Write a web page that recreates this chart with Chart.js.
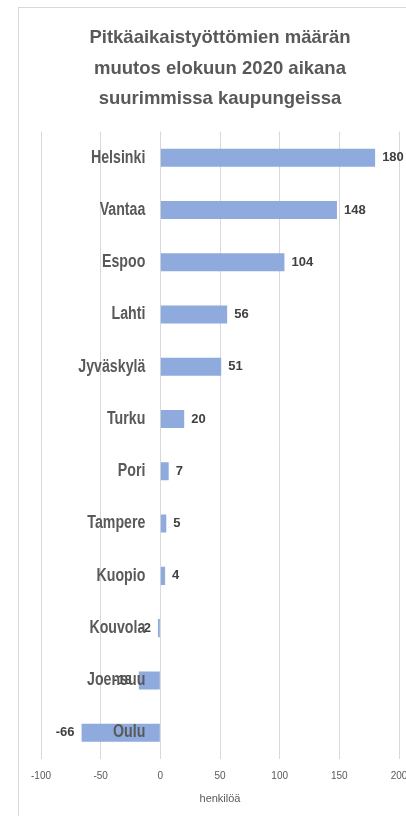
<!DOCTYPE html>
<html>
<head>
<meta charset="utf-8">
<script src="https://cdn.jsdelivr.net/npm/chart.js@4.4.0/dist/chart.umd.min.js"></script>
<style>
	html, body { margin: 0; padding: 0; background: #fff; overflow: hidden; }
	#frame {
		position: absolute; left: 18px; top: 7px; width: 600px; height: 900px;
		border-left: 1px solid #d9d9d9; border-top: 1px solid #d9d9d9;
	}
	#wrap { position: absolute; left: 0; top: 0; width: 430px; height: 816px; }
</style>
</head>
<body>
<div id="frame"></div>
<div id="wrap"><canvas id="chart"></canvas></div>
<script>
const titleLines = ['Pitkäaikaistyöttömien määrän', 'muutos elokuun 2020 aikana', 'suurimmissa kaupungeissa'];
const cities = ['Helsinki', 'Vantaa', 'Espoo', 'Lahti', 'Jyväskylä', 'Turku', 'Pori', 'Tampere', 'Kuopio', 'Kouvola', 'Joensuu', 'Oulu'];
const changes = [180, 148, 104, 56, 51, 20, 7, 5, 4, -2, -18, -66];
const xMin = -100;
const xMax = 200;
const xStep = 50;
const xTitle = 'henkilöä';

const baseFont = '"Liberation Sans", sans-serif';

// Category names next to the zero line, and values at the bar ends
const barLabels = {
	id: 'barLabels',
	afterDatasetsDraw(chart) {
		const {ctx, scales: {x}} = chart;
		const zero = x.getPixelForValue(0);
		const meta = chart.getDatasetMeta(0);
		ctx.save();
		ctx.textBaseline = 'middle';

		ctx.font = 'bold 13px ' + baseFont;
		ctx.fillStyle = '#404040';
		meta.data.forEach((bar, i) => {
			const v = changes[i];
			if (v >= 0) {
				ctx.textAlign = 'left';
				ctx.fillText(String(v), bar.x + 7, bar.y);
			} else {
				ctx.textAlign = 'right';
				ctx.fillText(String(v), bar.x - 7, bar.y);
			}
		});

		// condensed look for the city names
		const squeeze = 0.81;
		ctx.font = 'bold 17.5px ' + baseFont;
		ctx.fillStyle = '#595959';
		ctx.textAlign = 'right';
		meta.data.forEach((bar, i) => {
			ctx.save();
			ctx.translate(zero - 15, bar.y);
			ctx.scale(squeeze, 1);
			ctx.fillText(cities[i], 0, 0);
			ctx.restore();
		});
		ctx.restore();
	}
};

new Chart(document.getElementById('chart'), {
	type: 'bar',
	data: {
		labels: cities,
		datasets: [{
			data: changes,
			backgroundColor: '#8faadc',
			borderWidth: 0,
			barPercentage: 0.345,
			categoryPercentage: 1
		}]
	},
	options: {
		indexAxis: 'y',
		responsive: true,
		maintainAspectRatio: false,
		animation: false,
		layout: {
			padding: {left: 41, right: 31, top: 23, bottom: 7}
		},
		scales: {
			x: {
				min: xMin,
				max: xMax,
				border: {display: false},
				grid: {color: '#d9d9d9', drawTicks: false},
				ticks: {
					stepSize: xStep,
					padding: 11,
					color: '#595959',
					font: {family: baseFont, size: 10}
				},
				title: {
					display: true,
					text: xTitle,
					color: '#595959',
					font: {family: baseFont, size: 11},
					padding: {top: 0, bottom: 3}
				}
			},
			y: {
				display: false
			}
		},
		plugins: {
			legend: {display: false},
			tooltip: {enabled: false},
			title: {
				display: true,
				text: titleLines,
				color: '#595959',
				font: {family: baseFont, size: 18.5, weight: 'bold', lineHeight: 1.65},
				padding: {top: 0, bottom: 17}
			}
		}
	},
	plugins: [barLabels]
});
</script>
</body>
</html>
